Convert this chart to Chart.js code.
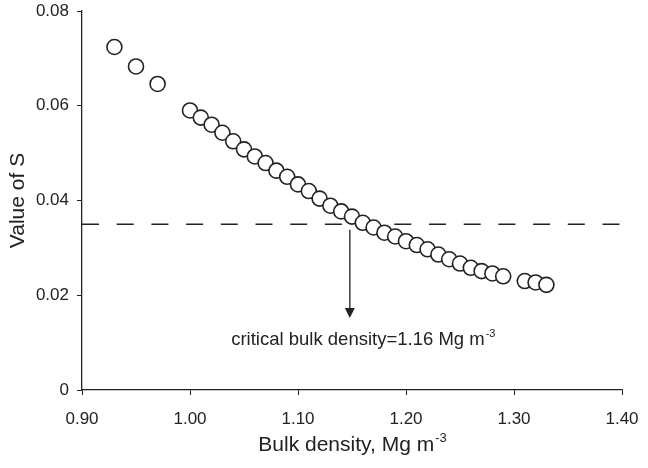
<!DOCTYPE html>
<html>
<head>
<meta charset="utf-8">
<script src="https://cdn.jsdelivr.net/npm/chart.js@4.4.0/dist/chart.umd.min.js"></script>
<style>
  html, body { margin: 0; padding: 0; background: #fff; }
  #wrap { width: 648px; height: 468px; }
</style>
</head>
<body>
<div id="wrap"><canvas id="grafico" width="648" height="468"></canvas></div>
<script>
// Datos
const densidad = [0.93, 0.95, 0.97,
  1.00, 1.01, 1.02, 1.03, 1.04, 1.05, 1.06, 1.07, 1.08, 1.09,
  1.10, 1.11, 1.12, 1.13, 1.14, 1.15, 1.16, 1.17, 1.18, 1.19,
  1.20, 1.21, 1.22, 1.23, 1.24, 1.25, 1.26, 1.27, 1.28, 1.29,
  1.31, 1.32, 1.33];
const valorS = [0.0724, 0.0683, 0.0646,
  0.0590, 0.0575, 0.0560, 0.0543, 0.0525, 0.0508, 0.0493, 0.0479, 0.0463, 0.0450,
  0.0434, 0.0420, 0.0404, 0.0389, 0.0377, 0.0366, 0.0353, 0.0343, 0.0332, 0.0324,
  0.0314, 0.0306, 0.0297, 0.0286, 0.0276, 0.0267, 0.0258, 0.0251, 0.0246, 0.0240,
  0.0230, 0.0227, 0.0222];
const xTicks = [0.90, 1.00, 1.10, 1.20, 1.30, 1.40];
const yTicks = [0, 0.02, 0.04, 0.06, 0.08];
const umbralS = 0.035;          // linea discontinua
const flechaX = 1.148;          // flecha hacia la densidad critica
const flechaDesde = 0.0338;
const flechaHasta = 0.0152;
const notaX = 1.16;
const notaY = 0.0095;
const notaTexto = "critical bulk density=1.16 Mg m";

const negro = "#222";
const fuente = "'Liberation Sans', Arial, sans-serif";

// Escribe texto con exponente (m^-3)
function textoExp(ctx, base, exp, x, y, size, centrado) {
  ctx.font = size + "px " + fuente;
  const wBase = ctx.measureText(base).width;
  ctx.font = Math.round(size * 0.6) + "px " + fuente;
  const wExp = ctx.measureText(exp).width;
  let x0 = centrado ? x - (wBase + wExp) / 2 : x;
  ctx.textAlign = "left";
  ctx.textBaseline = "alphabetic";
  ctx.font = size + "px " + fuente;
  ctx.fillText(base, x0, y);
  ctx.font = Math.round(size * 0.6) + "px " + fuente;
  ctx.fillText(exp, x0 + wBase + 1, y - size * 0.42);
}

const extras = {
  id: "extras",
  afterDraw(chart) {
    const ctx = chart.ctx;
    const xs = chart.scales.x, ys = chart.scales.y;
    const area = chart.chartArea;
    ctx.save();
    ctx.fillStyle = negro;

    // punta de flecha
    const px = xs.getPixelForValue(flechaX);
    const py = ys.getPixelForValue(flechaHasta);
    ctx.beginPath();
    ctx.moveTo(px, py);
    ctx.lineTo(px - 5, py - 10);
    ctx.lineTo(px + 5, py - 10);
    ctx.closePath();
    ctx.fill();

    // nota
    textoExp(ctx, notaTexto, "-3", xs.getPixelForValue(notaX), ys.getPixelForValue(notaY), 18.5, true);

    // titulo eje x
    textoExp(ctx, "Bulk density, Mg m", "-3", (area.left + area.right) / 2, 451, 21, true);

    // titulo eje y
    ctx.translate(18, (area.top + area.bottom) / 2);
    ctx.rotate(-Math.PI / 2);
    ctx.font = "21px " + fuente;
    ctx.textAlign = "center";
    ctx.textBaseline = "middle";
    ctx.fillText("Value of S", 0, 0);
    ctx.restore();
  }
};

const puntos = densidad.map((d, i) => ({ x: d, y: valorS[i] }));

new Chart(document.getElementById("grafico"), {
  data: {
    datasets: [
      {
        type: "scatter",
        data: puntos,
        pointRadius: 7.5,
        pointBorderWidth: 1.6,
        pointBackgroundColor: "#fff",
        pointBorderColor: negro,
        order: 0
      },
      {
        type: "line",
        data: [{ x: xTicks[0], y: umbralS }, { x: xTicks[xTicks.length - 1], y: umbralS }],
        borderColor: negro,
        borderWidth: 1.5,
        borderDash: [17, 17.7],
        pointRadius: 0,
        order: 1
      },
      {
        type: "line",
        data: [{ x: flechaX, y: flechaDesde }, { x: flechaX, y: flechaHasta + 0.001 }],
        borderColor: negro,
        borderWidth: 1.3,
        pointRadius: 0,
        order: 1
      }
    ]
  },
  options: {
    responsive: false,
    animation: false,
    layout: { padding: { top: 11, right: 26, left: 0, bottom: 0 } },
    plugins: { legend: { display: false }, tooltip: { enabled: false } },
    scales: {
      x: {
        type: "linear",
        min: xTicks[0],
        max: xTicks[xTicks.length - 1],
        afterBuildTicks: s => { s.ticks = xTicks.map(v => ({ value: v })); },
        afterFit: s => { s.height = 78; s.paddingLeft = 0; s.paddingRight = 0; },
        ticks: {
          callback: v => v.toFixed(2),
          color: negro,
          font: { family: fuente, size: 17 },
          padding: 14,
          maxRotation: 0
        },
        grid: { drawOnChartArea: false, drawTicks: true, tickLength: 5, color: negro },
        border: { display: true, color: negro, width: 1.3 }
      },
      y: {
        type: "linear",
        min: yTicks[0],
        max: yTicks[yTicks.length - 1],
        afterBuildTicks: s => { s.ticks = yTicks.map(v => ({ value: v })); },
        afterFit: s => { s.width = 82; s.paddingTop = 0; s.paddingBottom = 0; },
        ticks: {
          callback: v => (v === 0 ? "0" : v.toFixed(2)),
          color: negro,
          font: { family: fuente, size: 17 },
          padding: 8
        },
        grid: { drawOnChartArea: false, drawTicks: true, tickLength: 5, color: negro },
        border: { display: true, color: negro, width: 1.3 }
      }
    }
  },
  plugins: [extras]
});
</script>
</body>
</html>
